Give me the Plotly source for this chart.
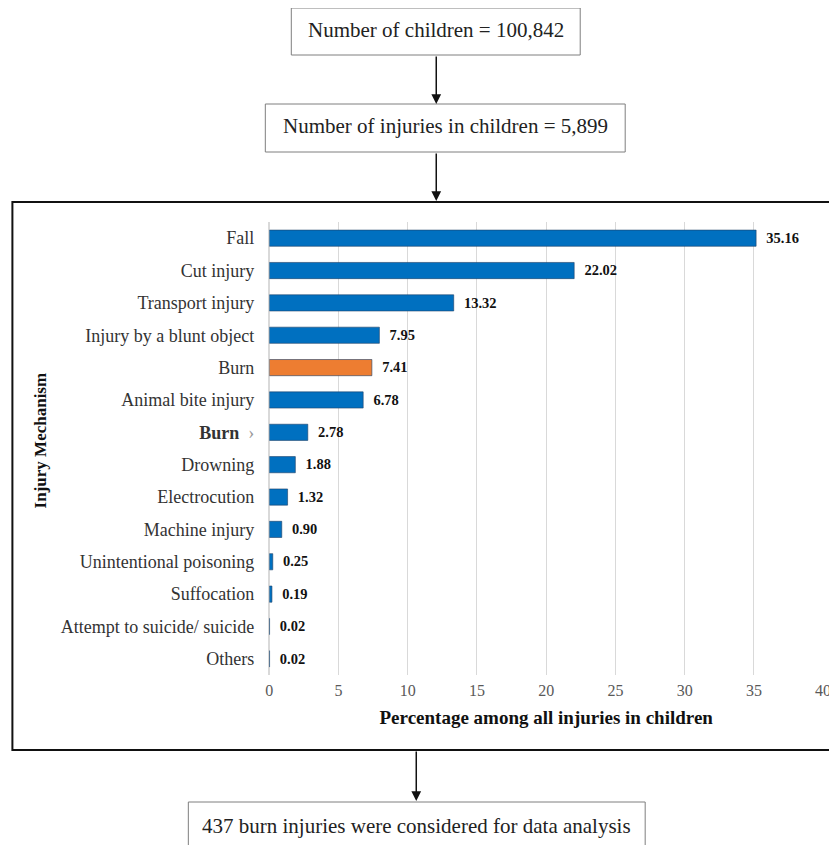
import plotly.graph_objects as go

categories = ["Fall", "Cut injury", "Transport injury", "Injury by a blunt object", "Burn",
              "Animal bite injury", "<b>Burn</b>  <span style='color:#999'>›</span>", "Drowning", "Electrocution",
              "Machine injury", "Unintentional poisoning", "Suffocation",
              "Attempt to suicide/ suicide", "Others"]
values = [35.16, 22.02, 13.32, 7.95, 7.41, 6.78, 2.78, 1.88, 1.32, 0.90, 0.25, 0.19, 0.02, 0.02]
highlight_index = 4
x_ticks = [0, 5, 10, 15, 20, 25, 30, 35, 40]

W, H = 837, 845
# empirical page mapping of the screenshot: page_x = 11.6 + 0.986*fig_x, page_y = 8 + fig_y
def px(x): return ((x - 11.6) / 0.986) / W
def py(y): return 1 - (y - 8) / H

FONT = "Liberation Serif"
colors = ["#ED7D31" if i == highlight_index else "#0070C0" for i in range(len(values))]
idx = list(range(len(values)))

fig = go.Figure(go.Bar(
    x=values, y=idx, orientation="h",
    marker=dict(color=colors, line=dict(color="#1f3f66", width=0.6)),
    text=[f"\u00a0\u00a0<b>{v:.2f}</b>" for v in values], textposition="outside",
    textfont=dict(family=FONT, size=17, color="#111"), cliponaxis=False,
    width=0.5,
))

fig.update_layout(
    width=W, height=H, margin=dict(l=0, r=0, t=0, b=0),
    paper_bgcolor="white", plot_bgcolor="white", showlegend=False,
    font=dict(family=FONT),
    xaxis=dict(domain=[px(269), px(823)], range=[0, 40], tickvals=x_ticks,
               showgrid=True, gridcolor="#d9d9d9", zeroline=True, zerolinecolor="#d9d9d9",
               tickfont=dict(family=FONT, size=16, color="#595959"), ticks="",
               ticklabelstandoff=4,
               title=dict(text="<b>Percentage among all injuries in children</b>",
                          font=dict(family=FONT, size=19, color="#111"), standoff=12)),
    yaxis=dict(domain=[py(675), py(222)], tickvals=idx, ticktext=categories,
               range=[13.5, -0.5], showgrid=False, ticks="",
               tickfont=dict(family=FONT, size=18, color="#333"), ticklabelstandoff=14),
)

shapes = [
    dict(x0=291, x1=580, y0=8, y1=55, color="#7f7f7f", w=1),
    dict(x0=265, x1=625, y0=104, y1=152, color="#7f7f7f", w=1),
    dict(x0=12, x1=860, y0=202, y1=750, color="#111", w=2),
    dict(x0=188, x1=645, y0=802, y1=870, color="#7f7f7f", w=1),
]
for s in shapes:
    fig.add_shape(type="rect", xref="paper", yref="paper",
                  x0=px(s["x0"]), x1=px(s["x1"]), y0=py(s["y1"]), y1=py(s["y0"]),
                  line=dict(color=s["color"], width=s["w"]), fillcolor="rgba(0,0,0,0)")

texts = [
    ("Number of children = 100,842", 436, 30, 21),
    ("Number of injuries in children = 5,899", 445, 126, 21),
    ("437 burn injuries were considered for data analysis", 416, 826, 21),
]
for t, x, y, s in texts:
    fig.add_annotation(text=t, x=px(x), y=py(y), xref="paper", yref="paper",
                       xanchor="center", yanchor="middle",
                       showarrow=False, font=dict(family=FONT, size=s, color="#222"))

arrows = [(436, 55, 104), (436, 152, 201), (416, 750, 801)]
for x, y0, y1 in arrows:
    fig.add_annotation(x=px(x), y=py(y1), xref="paper", yref="paper", text="",
                       showarrow=True, arrowhead=2, arrowsize=1.3, arrowwidth=1.5,
                       arrowcolor="#111", ax=0, ay=-(y1 - y0))

fig.add_annotation(text="<b>Injury Mechanism</b>", x=px(40), y=py(440), xref="paper", yref="paper",
                   xanchor="center", yanchor="middle",
                   showarrow=False, textangle=-90, font=dict(family=FONT, size=17, color="#111"))

fig.write_html("out.html")
